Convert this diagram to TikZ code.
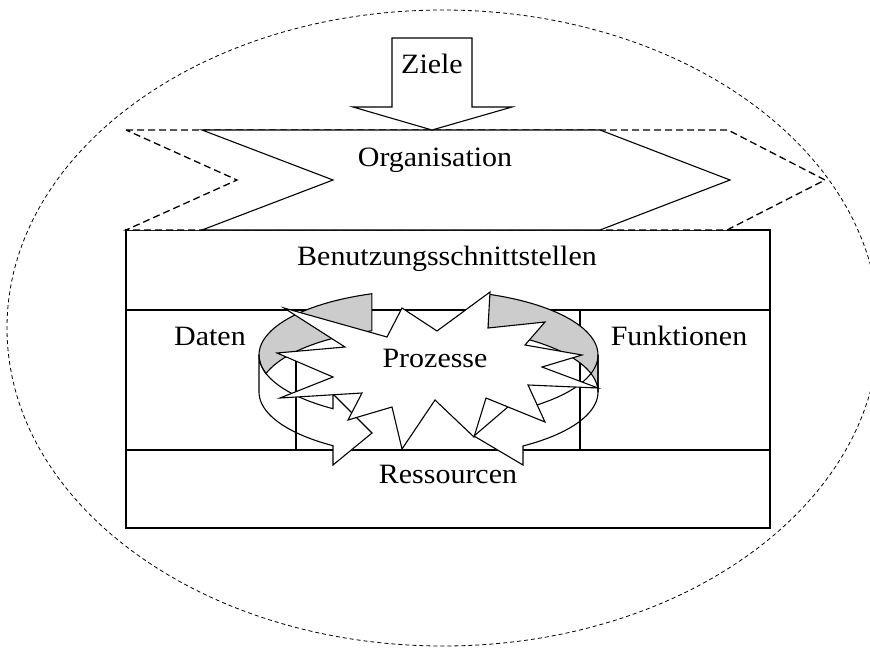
\documentclass[tikz,border=0pt]{standalone}
\usepackage{fontspec}
\setmainfont{Liberation Serif}[FakeStretch=1.07]
\definecolor{facegrey}{RGB}{204,204,204}
\begin{document}
\begin{tikzpicture}[x=1pt,y=-1pt,line join=miter,
  outline/.style={draw=black,line width=1.1pt},
  ghost/.style={draw=black,line width=1.3pt,dash pattern=on 7pt off 4pt,fill=white},
  boundary/.style={draw=black,line width=0.8pt,dash pattern=on 4pt off 3pt},
  face/.style={outline,fill=facegrey},
  label/.style={font=\fontsize{28}{30}\selectfont,inner sep=0pt,anchor=base}]
\useasboundingbox (0,0) rectangle (870,651);

% ring geometry: centre x, radii, top and bottom rim centres
\def\rcx{428.5}\def\rrx{169.5}\def\rry{65}\def\rtop{355}\def\rbot{392}

% outer dashed boundary
\draw[boundary] (443,328) ellipse [x radius=436pt, y radius=318pt];

% layered frame
\draw[outline] (126,230) rectangle (770,528);
\draw[outline] (126,310) -- (770,310);
\draw[outline] (126,450) -- (770,450);
\draw[outline] (296,310) -- (296,450);
\draw[outline] (580,310) -- (580,450);

% organisation band with its dashed extent
\path[ghost] (126,130) -- (728,130) -- (825,180) -- (727,230) -- (126,230) -- (237,180) -- cycle;
\path[outline,fill=white] (202,130) -- (600,130) -- (730,180) -- (600,230) -- (202,230) -- (333,180) -- cycle;

% goals arrow
\path[outline,fill=white] (392,38) -- (472,38) -- (472,107) -- (512,107) -- (432,130) -- (353,107) -- (392,107) -- cycle;

% circular arrow, inner faces at the back
\path[face] plot[domain=109.5:180,samples=30,variable=\t] ({\rcx+\rrx*cos(\t)},{\rtop-\rry*sin(\t)})
  -- plot[domain=180:196.54,samples=8,variable=\t] ({\rcx+\rrx*cos(\t)},{\rtop-\rry*sin(\t)})
  -- plot[domain=163.46:109.5,samples=30,variable=\t] ({\rcx+\rrx*cos(\t)},{\rbot-\rry*sin(\t)}) -- cycle;
\path[face] plot[domain=69.4:0,samples=30,variable=\t] ({\rcx+\rrx*cos(\t)},{\rtop-\rry*sin(\t)})
  -- plot[domain=0:69.4,samples=30,variable=\t] ({\rcx+\rrx*cos(\t)},{\rbot-\rry*sin(\t)}) -- cycle;

% circular arrow, outer walls at the front with their heads
\fill[white] (333,394) -- (372,433) -- (333,465) -- cycle;
\draw[outline] plot[domain=235.7:180,samples=30,variable=\t] ({\rcx+\rrx*cos(\t)},{\rtop-\rry*sin(\t)})
  -- plot[domain=180:235.7,samples=30,variable=\t] ({\rcx+\rrx*cos(\t)},{\rbot-\rry*sin(\t)})
  -- (333,465) -- (372,433) -- (333,394) -- cycle;
\fill[white] (523,394) -- (474,436) -- (523,465) -- cycle;
\draw[outline] plot[domain=-56.1:0,samples=30,variable=\t] ({\rcx+\rrx*cos(\t)},{\rtop-\rry*sin(\t)})
  -- plot[domain=0:-56.1,samples=30,variable=\t] ({\rcx+\rrx*cos(\t)},{\rbot-\rry*sin(\t)})
  -- (523,465) -- (474,436) -- (523,394) -- cycle;

% process burst
\path[outline,fill=white] (284,308) -- (387,337) -- (402,308) -- (437,331) -- (490,292) -- (488,328)
  -- (545,322) -- (525,345) -- (582,355) -- (542,367) -- (598,388) -- (528,385)
  -- (545,422) -- (486,398) -- (474,437) -- (435,400) -- (402,449) -- (392,407)
  -- (348,420) -- (362,393) -- (280,398) -- (333,377) -- (277,353) -- (345,347) -- cycle;

% labels
\node[label] (ziele) at (432,73) {Ziele};
\node[label] (org) at (435,166) {Organisation};
\node[label] (ui) at (447,265) {Benutzungsschnittstellen};
\node[label] (daten) at (210,345) {Daten};
\node[label] (funk) at (679,345) {Funktionen};
\node[label] (proz) at (435,367) {Prozesse};
\node[label] (res) at (448,483) {Ressourcen};
\end{tikzpicture}
\end{document}
